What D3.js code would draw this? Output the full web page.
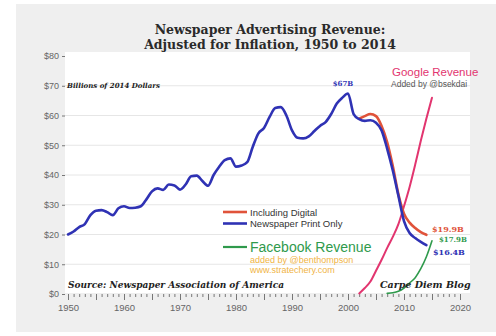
<!DOCTYPE html>
<html>
<head>
<meta charset="utf-8">
<script src="https://cdn.jsdelivr.net/npm/d3@7"></script>
<style>
body { margin: 0; background: #ffffff; }
svg { display: block; }
.serif { font-family: "DejaVu Serif", "Liberation Serif", serif; font-weight: bold; }
.sans { font-family: "Liberation Sans", Arial, sans-serif; }
</style>
</head>
<body>
<svg width="496" height="336"></svg>
<script>
/**********************
* data *
**********************/
var printYears = d3.range(1950, 2015)
var printValues = [20.0, 21.0, 22.5, 23.5, 26.5, 28.0, 28.2, 27.5, 26.5, 28.8,
    29.5, 28.9, 29.0, 29.5, 31.8, 34.5, 35.5, 35.0, 36.8, 36.5,
    35.1, 36.8, 39.6, 39.8, 38.0, 36.4, 40.0, 42.8, 45.0, 45.6,
    42.8, 43.2, 44.3, 49.5, 54.0, 55.8, 59.5, 62.5, 62.8, 60.0,
    55.0, 52.5, 52.3, 53.0, 54.8, 56.5, 57.8, 60.5, 64.0, 66.0,
    67.4, 60.5, 58.8, 58.2, 58.4, 57.6, 55.0, 48.8, 41.5, 33.0,
    24.5, 20.5, 18.8, 17.5, 16.4]

var digitalYears = d3.range(2002, 2015)
var digitalValues = [58.9, 59.8, 60.5, 59.8, 56.5, 51.0, 43.0, 33.5, 27.0, 24.0, 22.2, 20.8, 19.9]

var googleYears = d3.range(2002, 2016)
var googleValues = [0.2, 2.0, 4.2, 7.8, 11.5, 15.5, 19.2, 23.5, 29.5, 36.0, 43.5, 51.5, 59.0, 66.0]

var facebookYears = d3.range(2007, 2016)
var facebookValues = [0.2, 0.4, 0.9, 2.0, 3.7, 5.5, 8.5, 12.5, 17.9]

var yTicks = [0, 10, 20, 30, 40, 50, 60, 70, 80]
var xTicks = [1950, 1960, 1970, 1980, 1990, 2000, 2010, 2020]

var legendNames = ["Including Digital", "Newspaper Print Only"]

/**********************
* sizes and colours *
**********************/
var col_print = "#2f32b4"
var col_digital = "#e0533a"
var col_google = "#e2356f"
var col_facebook = "#2f9a4c"
var col_orange = "#f0b445"

var plot_left = 65
var plot_right = 470
var plot_top = 52
var plot_bottom = 293

var svg = d3.select("svg")

var x = d3.scaleLinear().domain([1950, 2020]).range([68, 460])
var y = d3.scaleLinear().domain([0, 80]).range([294, 56])

function zipSeries(years, values) {
    return years.map(function (yr, i) { return {year: yr, value: values[i]} })
}

var line = d3.line()
    .x(function (d) { return x(d.year) })
    .y(function (d) { return y(d.value) })
    .curve(d3.curveMonotoneX)

/**********************
* background *
**********************/
svg.append("rect")
    .attr("x", 16).attr("y", 4)
    .attr("width", 480).attr("height", 328)
    .attr("fill", "#efefef")

svg.append("rect")
    .attr("x", plot_left).attr("y", plot_top)
    .attr("width", plot_right - plot_left).attr("height", plot_bottom - plot_top)
    .attr("fill", "#ffffff")

/* grid lines */
svg.append("g")
    .selectAll("line")
    .data(yTicks.filter(function (d) { return d > 0 && d < 80 }))
    .enter()
    .append("line")
    .attr("x1", plot_left).attr("x2", plot_right)
    .attr("y1", function (d) { return y(d) }).attr("y2", function (d) { return y(d) })
    .attr("stroke", "#e6e6e6")
    .attr("stroke-width", 1)

/**********************
* axes *
**********************/
var yAxis = d3.axisLeft(y)
    .tickValues(yTicks)
    .tickSize(3)
    .tickPadding(3)
    .tickFormat(function (d) { return "$" + d })

var gY = svg.append("g")
    .attr("transform", "translate(" + (plot_left) + ",0)")
    .call(yAxis)
gY.select(".domain").remove()
gY.selectAll("line").attr("stroke", "#777")
gY.selectAll("text")
    .attr("class", "sans")
    .attr("font-size", 9)
    .attr("fill", "#666")

var xAxis = d3.axisBottom(x)
    .tickValues(d3.range(1950, 2021))
    .tickSize(4)
    .tickPadding(6)
    .tickFormat(function (d) { return xTicks.indexOf(d) >= 0 ? d : "" })

var gX = svg.append("g")
    .attr("transform", "translate(0," + y(0) + ")")
    .call(xAxis)
gX.select(".domain").remove()
gX.selectAll("line")
    .attr("stroke", "#777")
    .attr("y2", function (d) { return d % 5 == 0 ? 6 : 3 })
gX.selectAll("text")
    .attr("class", "sans")
    .attr("font-size", 9.5)
    .attr("fill", "#666")

/**********************
* lines *
**********************/
function drawLine(years, values, colour, width) {
    svg.append("path")
        .datum(zipSeries(years, values))
        .attr("d", line)
        .attr("fill", "none")
        .attr("stroke", colour)
        .attr("stroke-width", width)
        .attr("stroke-linejoin", "round")
        .attr("stroke-linecap", "round")
}

drawLine(googleYears, googleValues, col_google, 2)
drawLine(facebookYears, facebookValues, col_facebook, 1.6)
drawLine(digitalYears, digitalValues, col_digital, 2.6)
drawLine(printYears, printValues, col_print, 2.6)

/**********************
* texts *
**********************/
function addText(txt, tx, ty, cls, size, colour, anchor, italic) {
    return svg.append("text")
        .text(txt)
        .attr("class", cls)
        .attr("x", tx)
        .attr("y", ty)
        .attr("font-size", size)
        .attr("fill", colour)
        .attr("text-anchor", anchor || "start")
        .attr("font-style", italic ? "italic" : "normal")
}

addText("Newspaper Advertising Revenue:", 270, 34, "serif", 12.5, "#2a2a2a", "middle")
addText("Adjusted for Inflation, 1950 to 2014", 270, 49, "serif", 12.5, "#2a2a2a", "middle")

addText("Billions of 2014 Dollars", 67, 88, "serif", 7, "#222", "start", true)
addText("Source: Newspaper Association of America", 68, 288, "serif", 9, "#222", "start", true)
addText("Carpe Diem Blog", 380, 288, "serif", 9.5, "#222", "start", true)

addText("$" + d3.max(printValues).toFixed(0) + "B", 343, 86, "serif", 7, col_print, "middle")

addText("Google Revenue", 392, 76, "sans", 11.5, col_google)
addText("Added by @bsekdai", 391, 87, "sans", 8.5, "#555")

/* end values */
addText("$" + digitalValues[digitalValues.length - 1] + "B", 432, 232, "serif", 8, col_digital)
addText("$" + facebookValues[facebookValues.length - 1] + "B", 439, 242, "serif", 7, col_facebook)
addText("$" + printValues[printValues.length - 1] + "B", 433, 255, "serif", 8, col_print)

/**********************
* legend *
**********************/
var legendColours = [col_digital, col_print]
var legend = svg.append("g")
    .selectAll("g")
    .data(legendNames)
    .enter()
    .append("g")
    .attr("transform", function (d, i) { return "translate(223," + (212 + i * 11.5) + ")" })

legend.append("line")
    .attr("x1", 0).attr("x2", 24)
    .attr("stroke", function (d, i) { return legendColours[i] })
    .attr("stroke-width", 2.6)

legend.append("text")
    .text(function (d) { return d })
    .attr("class", "sans")
    .attr("x", 27)
    .attr("y", 3.5)
    .attr("font-size", 9.5)
    .attr("fill", "#333")

svg.append("line")
    .attr("x1", 223).attr("x2", 247)
    .attr("y1", 247).attr("y2", 247)
    .attr("stroke", col_facebook)
    .attr("stroke-width", 2.2)

addText("Facebook Revenue", 250, 252, "sans", 14, col_facebook)
addText("added by @benthompson", 250, 263, "sans", 9, col_orange)
addText("www.stratechery.com", 250, 273, "sans", 9, col_orange)
</script>
</body>
</html>
